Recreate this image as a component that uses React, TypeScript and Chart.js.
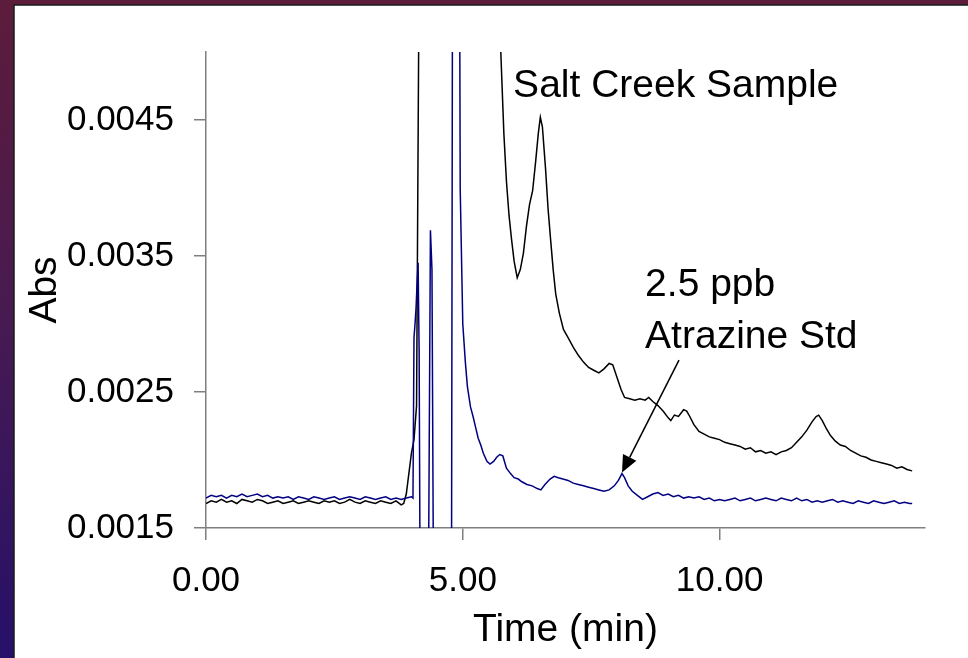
import React, { useEffect, useRef } from "react";
import { Chart, registerables } from "chart.js";

Chart.register(...registerables);

const FONT = 'Arial, "Liberation Sans", Helvetica, sans-serif';

// ---- Data ----
const X_TICKS = [0, 5, 10];
const Y_TICKS = [0.0015, 0.0025, 0.0035, 0.0045];

const SALT_TIME = [
  0.0, 0.1, 0.2, 0.3, 0.4, 0.5, 0.6, 0.7, 0.8, 0.9,
  1.0, 1.1, 1.2, 1.3, 1.4, 1.5, 1.6, 1.7, 1.8, 1.9,
  2.0, 2.1, 2.2, 2.3, 2.4, 2.5, 2.6, 2.7, 2.8, 2.9,
  3.0, 3.1, 3.2, 3.3, 3.4, 3.5, 3.6, 3.7, 3.8,
  3.85, 3.9, 3.95, 4.0, 4.05, 4.1, 4.14, 4.17,
  5.70, 5.74, 5.80, 5.85, 5.90, 5.95, 6.00, 6.06, 6.12, 6.18,
  6.24, 6.30, 6.36, 6.42, 6.47, 6.51, 6.55, 6.61, 6.66, 6.71,
  6.76, 6.81, 6.88, 6.96, 7.05, 7.15, 7.25, 7.35, 7.45, 7.55,
  7.65, 7.75, 7.85, 7.92, 8.00, 8.08, 8.15, 8.25, 8.35, 8.45,
  8.55, 8.62, 8.70, 8.80, 8.90, 9.00, 9.05, 9.12, 9.20, 9.30,
  9.36, 9.42, 9.50, 9.60, 9.70, 9.80, 9.90, 10.00, 10.10, 10.20,
  10.30, 10.40, 10.50, 10.60, 10.70, 10.80, 10.90, 11.00, 11.10, 11.20,
  11.30, 11.40, 11.50, 11.60, 11.70, 11.80, 11.88, 11.93, 12.00, 12.08,
  12.16, 12.25, 12.35, 12.45, 12.55, 12.65, 12.75, 12.85, 12.95, 13.05,
  13.15, 13.25, 13.35, 13.45, 13.55, 13.65, 13.75,
];
const SALT_ABS = [
  0.00168, 0.00170, 0.00169, 0.00171, 0.00169, 0.00170, 0.00168, 0.00171, 0.00170, 0.00169,
  0.00171, 0.00170, 0.00168, 0.00169, 0.00170, 0.00168, 0.00169, 0.00170, 0.00168, 0.00169,
  0.00170, 0.00169, 0.00168, 0.00170, 0.00169, 0.00170, 0.00168, 0.00169, 0.00171, 0.00169,
  0.00168, 0.00170, 0.00169, 0.00168, 0.00170, 0.00169, 0.00168, 0.00170, 0.00167,
  0.00168, 0.00175, 0.00190, 0.00205, 0.00215, 0.00240, 0.0050, 0.0080,
  0.0080, 0.0050, 0.00440, 0.00405, 0.00380, 0.00362, 0.00346, 0.00334, 0.00340, 0.00352,
  0.00372, 0.00388, 0.00398, 0.00420, 0.00440, 0.00452, 0.00445, 0.00415, 0.00385, 0.00362,
  0.00340, 0.00322, 0.00308, 0.00296, 0.00290, 0.00283, 0.00277, 0.00272, 0.00268, 0.00266,
  0.00264, 0.00267, 0.00271, 0.00270, 0.00261, 0.00252, 0.00246, 0.00245, 0.00244, 0.00245,
  0.00244, 0.00246, 0.00243, 0.00240, 0.00236, 0.00231, 0.00229, 0.00233, 0.00232, 0.00237,
  0.00236, 0.00232, 0.00226, 0.00221, 0.00219, 0.00217, 0.00216, 0.00215, 0.00213, 0.00212,
  0.00211, 0.00210, 0.00208, 0.00209, 0.00206, 0.00207, 0.00205, 0.00206, 0.00204, 0.00206,
  0.00207, 0.00209, 0.00213, 0.00217, 0.00222, 0.00228, 0.00232, 0.00233, 0.00229, 0.00223,
  0.00218, 0.00214, 0.00211, 0.00210, 0.00207, 0.00205, 0.00203, 0.00202, 0.00200, 0.00199,
  0.00198, 0.00197, 0.00196, 0.00194, 0.00195, 0.00193, 0.00192,
];

const STD_TIME = [
  0.0, 0.1, 0.2, 0.3, 0.4, 0.5, 0.6, 0.7, 0.8, 0.9,
  1.0, 1.1, 1.2, 1.3, 1.4, 1.5, 1.6, 1.7, 1.8, 1.9,
  2.0, 2.1, 2.2, 2.3, 2.4, 2.5, 2.6, 2.7, 2.8, 2.9,
  3.0, 3.1, 3.2, 3.3, 3.4, 3.5, 3.6, 3.7, 3.8, 3.9,
  4.0,
  4.03, 4.05, 4.07, 4.09, 4.11, 4.13, 4.15, 4.17,
  4.33, 4.37, 4.40, 4.43,
  4.78, 4.81, 4.92, 4.95, 5.00, 5.05, 5.09, 5.15, 5.20, 5.25,
  5.30, 5.35, 5.40, 5.47, 5.53, 5.60, 5.66, 5.72, 5.78, 5.85,
  5.93, 6.00, 6.08, 6.15, 6.25, 6.35, 6.45, 6.52, 6.60, 6.70,
  6.78, 6.86, 6.95, 7.05, 7.15, 7.25, 7.35, 7.45, 7.55, 7.65,
  7.75, 7.85, 7.95, 8.03, 8.10, 8.15, 8.22, 8.30, 8.40, 8.50,
  8.60, 8.70, 8.80, 8.90, 9.00, 9.10, 9.20, 9.30, 9.40, 9.50,
  9.60, 9.70, 9.80, 9.90, 10.0, 10.1, 10.2, 10.3, 10.4, 10.5,
  10.6, 10.7, 10.8, 10.9, 11.0, 11.1, 11.2, 11.3, 11.4, 11.5,
  11.6, 11.7, 11.8, 11.9, 12.0, 12.1, 12.2, 12.3, 12.4, 12.5,
  12.6, 12.7, 12.8, 12.9, 13.0, 13.1, 13.2, 13.3, 13.4, 13.5,
  13.6, 13.7, 13.75,
];
const STD_ABS = [
  0.00172, 0.00174, 0.00173, 0.00174, 0.00172, 0.00174, 0.00173, 0.00175, 0.00173, 0.00174,
  0.00175, 0.00173, 0.00174, 0.00172, 0.00173, 0.00172, 0.00173, 0.00171, 0.00173, 0.00172,
  0.00171, 0.00173, 0.00172, 0.00171, 0.00172, 0.00173, 0.00171, 0.00172, 0.00173, 0.00172,
  0.00171, 0.00173, 0.00172, 0.00171, 0.00172, 0.00173, 0.00171, 0.00172, 0.00171, 0.00172,
  0.00173,
  0.00172, 0.00290, 0.00300, 0.00312, 0.00330, 0.00345, 0.00280, 0.0010,
  0.0010, 0.00369, 0.00340, 0.0010,
  0.0010, 0.0080, 0.0080, 0.00399, 0.00300, 0.00272, 0.00254, 0.00239, 0.00232, 0.00224,
  0.00216, 0.00211, 0.00205, 0.00199, 0.00197, 0.00199, 0.00202, 0.00204, 0.00203, 0.00194,
  0.00190, 0.00187, 0.00186, 0.00184, 0.00182, 0.00181, 0.00179, 0.00178, 0.00182, 0.00186,
  0.00188, 0.00187, 0.00186, 0.00185, 0.00183, 0.00182, 0.00181, 0.00180, 0.00179, 0.00178,
  0.00177, 0.00178, 0.00181, 0.00185, 0.00190, 0.00187, 0.00181, 0.00177, 0.00174, 0.00171,
  0.00173, 0.00175, 0.00176, 0.00174, 0.00175, 0.00173, 0.00174, 0.00172, 0.00173, 0.00172,
  0.00173, 0.00171, 0.00172, 0.00170, 0.00171, 0.00170, 0.00171, 0.00172, 0.00170, 0.00171,
  0.00172, 0.00170, 0.00171, 0.00172, 0.00171, 0.00170, 0.00172, 0.00171, 0.00170, 0.00172,
  0.00170, 0.00171, 0.00169, 0.00170, 0.00169, 0.00170, 0.00171, 0.00169, 0.00170, 0.00169,
  0.00168, 0.00170, 0.00169, 0.00168, 0.00170, 0.00169, 0.00168, 0.00169, 0.00170, 0.00168,
  0.00169, 0.00168, 0.00168,
];

// Annotation anchors (data units)
const SALT_LABEL = { text: "Salt Creek Sample", t: 5.98, v: 0.004669 };
const STD_LABEL_LINES = ["2.5 ppb", "Atrazine Std"];
const STD_LABEL_POS = { t: 8.55, v: 0.003205, v2: 0.002820 };
const ARROW_TAIL = { t: 9.21, v: 0.002735 };
const ARROW_TIP = { t: 8.10, v: 0.00190 };

const W = 968;
const H = 658;

const backgroundPlugin = {
  id: "bgPanel",
  beforeDraw(chart: any) {
    const ctx = chart.ctx as CanvasRenderingContext2D;
    ctx.save();
    const g = ctx.createLinearGradient(0, 0, 0, H);
    g.addColorStop(0, "#5d1c3b");
    g.addColorStop(0.5, "#461a52");
    g.addColorStop(1, "#26106a");
    ctx.fillStyle = g;
    ctx.fillRect(0, 0, W, H);
    ctx.fillStyle = "#ffffff";
    ctx.fillRect(14, 5, W - 14, H - 5);
    ctx.strokeStyle = "#1a1a1a";
    ctx.lineWidth = 1.5;
    ctx.beginPath();
    ctx.moveTo(14, H);
    ctx.lineTo(14, 5);
    ctx.lineTo(W, 5);
    ctx.stroke();
    ctx.restore();
  },
};

const annotationPlugin = {
  id: "annotations",
  afterDatasetsDraw(chart: any) {
    const ctx = chart.ctx as CanvasRenderingContext2D;
    const xs = chart.scales.x;
    const ys = chart.scales.y;
    ctx.save();
    ctx.fillStyle = "#000";
    ctx.font = `39px ${FONT}`;
    ctx.textAlign = "left";
    ctx.textBaseline = "alphabetic";
    ctx.fillText(SALT_LABEL.text, xs.getPixelForValue(SALT_LABEL.t), ys.getPixelForValue(SALT_LABEL.v));
    ctx.fillText(STD_LABEL_LINES[0], xs.getPixelForValue(STD_LABEL_POS.t), ys.getPixelForValue(STD_LABEL_POS.v));
    ctx.fillText(STD_LABEL_LINES[1], xs.getPixelForValue(STD_LABEL_POS.t), ys.getPixelForValue(STD_LABEL_POS.v2));

    const x1 = xs.getPixelForValue(ARROW_TAIL.t);
    const y1 = ys.getPixelForValue(ARROW_TAIL.v);
    const x2 = xs.getPixelForValue(ARROW_TIP.t);
    const y2 = ys.getPixelForValue(ARROW_TIP.v) - 1;
    const ang = Math.atan2(y2 - y1, x2 - x1);
    const headLen = 17;
    const headHalf = 7.5;
    const bx = x2 - headLen * Math.cos(ang);
    const by = y2 - headLen * Math.sin(ang);
    ctx.strokeStyle = "#000";
    ctx.lineWidth = 1.5;
    ctx.beginPath();
    ctx.moveTo(x1, y1);
    ctx.lineTo(bx, by);
    ctx.stroke();
    ctx.beginPath();
    ctx.moveTo(x2, y2);
    ctx.lineTo(bx + headHalf * Math.sin(ang), by - headHalf * Math.cos(ang));
    ctx.lineTo(bx - headHalf * Math.sin(ang), by + headHalf * Math.cos(ang));
    ctx.closePath();
    ctx.fill();
    ctx.restore();
  },
};

const AXIS_GRAY = "#7f7f7f";

export default function App() {
  const ref = useRef<HTMLCanvasElement>(null);
  useEffect(() => {
    document.body.style.margin = "0";
    const saltData = SALT_TIME.map((t, i) => ({ x: t, y: SALT_ABS[i] }));
    const stdData = STD_TIME.map((t, i) => ({ x: t, y: STD_ABS[i] }));
    const chart = new Chart(ref.current as HTMLCanvasElement, {
      type: "line",
      data: {
        datasets: [
          {
            label: "2.5 ppb Atrazine Std",
            data: stdData,
            borderColor: "#000080",
            borderWidth: 1.5,
            pointRadius: 0,
            tension: 0,
            fill: false,
          },
          {
            label: "Salt Creek Sample",
            data: saltData,
            borderColor: "#000000",
            borderWidth: 1.5,
            pointRadius: 0,
            tension: 0,
            fill: false,
          },
        ],
      },
      options: {
        responsive: false,
        animation: false,
        devicePixelRatio: 1,
        layout: { padding: { top: 52, right: 43, left: 0, bottom: 0 } },
        plugins: {
          legend: { display: false },
          tooltip: { enabled: false },
        },
        scales: {
          x: {
            type: "linear",
            min: 0,
            max: 14,
            afterBuildTicks: (s: any) => {
              s.ticks = X_TICKS.map((v) => ({ value: v }));
            },
            afterFit: (s: any) => {
              s.height = 130;
            },
            ticks: {
              callback: (v: any) => Number(v).toFixed(2),
              font: { family: FONT, size: 35 },
              color: "#000",
              padding: 20,
              maxRotation: 0,
              autoSkip: false,
            },
            grid: {
              drawOnChartArea: false,
              drawTicks: true,
              tickLength: 12,
              color: AXIS_GRAY,
              lineWidth: 1.5,
            },
            border: { display: true, color: AXIS_GRAY, width: 1.5 },
            title: {
              display: true,
              text: "Time (min)",
              font: { family: FONT, size: 39 },
              color: "#000",
              padding: { top: 0, bottom: 4 },
            },
          },
          y: {
            type: "linear",
            min: 0.0015,
            max: 0.005,
            afterBuildTicks: (s: any) => {
              s.ticks = Y_TICKS.map((v) => ({ value: v }));
            },
            afterFit: (s: any) => {
              s.width = 206;
            },
            ticks: {
              callback: (v: any) => Number(v).toFixed(4),
              font: { family: FONT, size: 35 },
              color: "#000",
              padding: 20,
              autoSkip: false,
            },
            grid: {
              drawOnChartArea: false,
              drawTicks: true,
              tickLength: 12,
              color: AXIS_GRAY,
              lineWidth: 1.5,
            },
            border: { display: true, color: AXIS_GRAY, width: 1.5 },
            title: {
              display: true,
              text: "Abs",
              font: { family: FONT, size: 39 },
              color: "#000",
              padding: { top: 22, bottom: 0 },
            },
          },
        },
      },
      plugins: [backgroundPlugin, annotationPlugin],
    } as any);
    return () => chart.destroy();
  }, []);
  return <canvas ref={ref} width={W} height={H} style={{ display: "block" }} />;
}
